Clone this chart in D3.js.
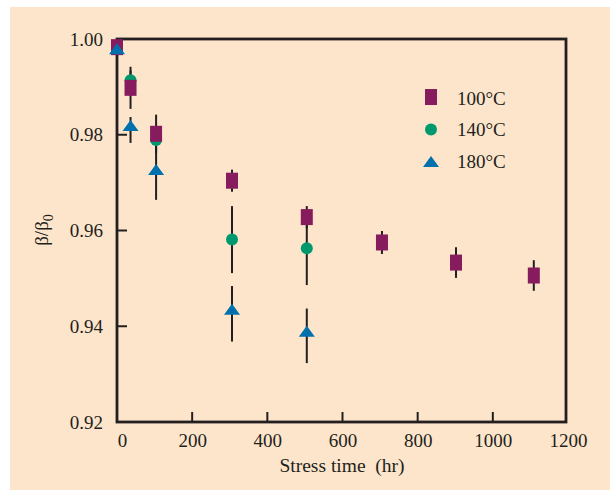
<!DOCTYPE html>
<html>
<head>
<meta charset="utf-8">
<script src="https://cdn.jsdelivr.net/npm/d3@7"></script>
<style>
  body { margin: 0; background: #fff; }
  svg { display: block; }
  text { font-family: "Liberation Serif", "Times New Roman", serif; fill: #231f20; }
</style>
</head>
<body>
<svg id="chart" width="610" height="490"></svg>
<script>
// stress times (hr) and beta/beta0 values
const times100 = [0, 36, 104, 306, 505, 705, 902, 1109];
const vals100 = [0.9983, 0.9898, 0.9802, 0.9704, 0.9628, 0.9575, 0.9533, 0.9506];
const errs100 = [0, 0.0044, 0.0040, 0.0023, 0.0023, 0.0024, 0.0032, 0.0032];

const times140 = [36, 104, 306, 505];
const vals140 = [0.9914, 0.9789, 0.9581, 0.9563];
const errs140 = [0.002, 0.002, 0.0070, 0.0077];

const times180 = [0, 36, 104, 306, 505];
const vals180 = [0.9970, 0.9810, 0.9718, 0.9426, 0.9380];
const errs180 = [0, 0.0027, 0.0054, 0.0058, 0.0057];

const xTicks = [0, 200, 400, 600, 800, 1000, 1200];
const yTicks = [1.00, 0.98, 0.96, 0.94, 0.92];
const legendLabels = ["100°C", "140°C", "180°C"];

const ink = "#231f20";
const colors = ["#861b5d", "#00996e", "#0071ad"];

const svg = d3.select("#chart");

svg.append("rect")
    .attr("x", 10).attr("y", 7)
    .attr("width", 600).attr("height", 483)
    .attr("fill", "#fde5cb");

const plotLeft = 117, plotRight = 566, plotTop = 39, plotBottom = 422;

const x = d3.scaleLinear().domain([0, 1200]).range([plotLeft, 568]);
const y = d3.scaleLinear().domain([0.92, 1.00]).range([plotBottom, plotTop]);

// x axis: ticks point inward
const xAxis = svg.append("g")
    .attr("transform", "translate(0," + plotBottom + ")")
    .call(d3.axisBottom(x).tickValues(xTicks).tickSize(0).tickFormat(d3.format("d")));
xAxis.select(".domain").remove();
xAxis.selectAll("line").remove();
xAxis.selectAll("text")
    .attr("y", 25)
    .attr("dy", 0)
    .attr("x", function(d) { return d === 0 ? 5 : 0; })
    .style("font-size", "19px")
    .style("fill", ink);

svg.append("g").selectAll("line")
    .data(xTicks.filter(function(d) { return d > 0 && d < 1200; }))
    .enter().append("line")
    .attr("x1", function(d) { return x(d); })
    .attr("x2", function(d) { return x(d); })
    .attr("y1", plotBottom).attr("y2", plotBottom - 10)
    .attr("stroke", ink).attr("stroke-width", 2);

// y axis
const yAxis = svg.append("g")
    .attr("transform", "translate(" + plotLeft + ",0)")
    .call(d3.axisLeft(y).tickValues(yTicks).tickSize(0).tickFormat(d3.format(".2f")));
yAxis.select(".domain").remove();
yAxis.selectAll("line").remove();
yAxis.selectAll("text")
    .attr("x", -14)
    .style("font-size", "19px")
    .style("fill", ink);

svg.append("g").selectAll("line")
    .data(yTicks.filter(function(d) { return d > 0.92 && d < 1.00; }))
    .enter().append("line")
    .attr("x1", plotLeft).attr("x2", plotLeft + 10)
    .attr("y1", function(d) { return y(d); })
    .attr("y2", function(d) { return y(d); })
    .attr("stroke", ink).attr("stroke-width", 2);

// frame
svg.append("rect")
    .attr("x", plotLeft).attr("y", plotTop)
    .attr("width", plotRight - plotLeft).attr("height", plotBottom - plotTop)
    .attr("fill", "none")
    .attr("stroke", ink).attr("stroke-width", 2.8);

// axis titles
svg.append("text")
    .attr("x", 342).attr("y", 472)
    .attr("text-anchor", "middle")
    .attr("xml:space", "preserve")
    .style("font-size", "19.5px")
    .text("Stress time  (hr)");

const ylab = svg.append("text")
    .attr("transform", "translate(48,230) rotate(-90)")
    .attr("text-anchor", "middle")
    .style("font-size", "19px");
ylab.append("tspan").text("β/β");
ylab.append("tspan").attr("dy", 5).style("font-size", "14px").text("0");

// series
function series(times, vals, errs) {
    return times.map(function(t, i) { return { t: t, v: vals[i], e: errs[i] }; });
}
const s100 = series(times100, vals100, errs100);
const s140 = series(times140, vals140, errs140);
const s180 = series(times180, vals180, errs180);

// error bars underneath markers
const bars = svg.append("g");
[s100, s140, s180].forEach(function(s) {
    bars.selectAll(null)
        .data(s.filter(function(d) { return d.e > 0; }))
        .enter().append("line")
        .attr("x1", function(d) { return x(d.t); })
        .attr("x2", function(d) { return x(d.t); })
        .attr("y1", function(d) { return y(d.v + d.e); })
        .attr("y2", function(d) { return y(d.v - d.e); })
        .attr("stroke", ink).attr("stroke-width", 2);
});

const tri = "M0,-10L8,1L-8,1Z";

svg.append("g").selectAll("circle")
    .data(s140).enter().append("circle")
    .attr("cx", function(d) { return x(d.t); })
    .attr("cy", function(d) { return y(d.v); })
    .attr("r", 6)
    .attr("fill", colors[1]);

svg.append("g").selectAll("rect")
    .data(s100).enter().append("rect")
    .attr("x", function(d) { return x(d.t) - 6; })
    .attr("y", function(d) { return y(d.v) - 8; })
    .attr("width", 12).attr("height", 16)
    .attr("fill", colors[0]);

svg.append("g").selectAll("path")
    .data(s180).enter().append("path")
    .attr("transform", function(d) { return "translate(" + x(d.t) + "," + y(d.v) + ")"; })
    .attr("d", tri)
    .attr("fill", colors[2]);

// legend
const legend = svg.append("g");
legend.append("rect")
    .attr("x", 425).attr("y", 89).attr("width", 12).attr("height", 16)
    .attr("fill", colors[0]);
legend.append("circle")
    .attr("cx", 431).attr("cy", 129.5).attr("r", 6)
    .attr("fill", colors[1]);
legend.append("path")
    .attr("transform", "translate(431,166)")
    .attr("d", tri)
    .attr("fill", colors[2]);
legend.selectAll("text")
    .data(legendLabels).enter().append("text")
    .attr("x", 457)
    .attr("y", function(d, i) { return 104.5 + i * 31.5; })
    .style("font-size", "19px")
    .text(function(d) { return d; });
</script>
</body>
</html>
